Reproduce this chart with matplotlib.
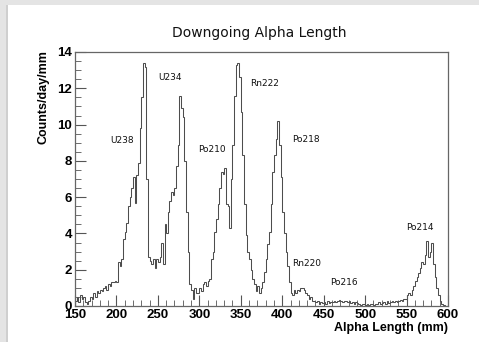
import matplotlib
matplotlib.use("Agg")
import matplotlib.pyplot as plt
import numpy as np
from matplotlib.patches import Rectangle
from matplotlib.ticker import MultipleLocator

# ============================================================
# Data: counts/day/mm in 2 mm bins, 150..600 mm
# ============================================================
bin_lo, bin_hi, bin_w = 150, 600, 2

counts = [
    0.3, 0.5, 0.2, 0.6, 0.4, 0.5, 0.2, 0.1, 0.3, 0.5,      # 150-168
    0.4, 0.7, 0.5, 0.8, 0.7, 0.9, 0.8, 1.0, 1.1, 0.9,      # 170-188
    1.2, 1.1, 1.3, 1.3, 1.4, 1.3, 2.4, 2.2, 2.6, 3.7,      # 190-208
    4.1, 4.6, 5.5, 6.0, 6.5, 7.1, 5.7, 7.2, 7.9, 9.8,      # 210-228
    11.5, 13.4, 13.2, 7.0, 2.7, 2.5, 2.3, 2.6, 2.1, 2.6,   # 230-248
    2.4, 2.7, 3.5, 2.3, 4.5, 4.0, 5.2, 5.8, 6.3, 6.1,      # 250-268
    6.5, 7.7, 8.9, 11.6, 10.9, 10.4, 8.0, 5.2, 3.0, 1.2,   # 270-288
    0.9, 0.4, 1.0, 0.7, 0.7, 1.0, 0.8, 1.2, 1.3, 1.1,      # 290-308
    1.4, 1.5, 2.6, 3.0, 4.1, 4.8, 5.6, 6.5, 7.4, 7.3,      # 310-328
    7.6, 5.6, 5.5, 4.3, 7.0, 8.9, 11.6, 13.3, 13.4, 12.6,  # 330-348
    10.7, 8.3, 5.6, 3.9, 3.0, 2.6, 2.0, 1.5, 1.2, 0.8,     # 350-368
    1.1, 0.7, 1.0, 1.3, 1.9, 2.6, 3.4, 4.1, 5.6, 7.4,      # 370-388
    8.3, 9.2, 10.2, 8.9, 7.1, 5.2, 4.0, 3.0, 2.2, 1.3,     # 390-408
    0.7, 0.6, 0.9, 0.7, 0.9, 0.8, 1.0, 1.0, 0.9, 0.7,      # 410-428
    0.6, 0.4, 0.5, 0.3, 0.3, 0.2, 0.3, 0.1, 0.2, 0.15,     # 430-448
    0.2, 0.1, 0.25, 0.15, 0.2, 0.2, 0.3, 0.2, 0.25, 0.35,  # 450-468
    0.3, 0.2, 0.3, 0.25, 0.2, 0.3, 0.15, 0.2, 0.1, 0.2,    # 470-488
    0.15, 0.1, 0.05, 0.1, 0.1, 0.05, 0.1, 0.05, 0.1, 0.1,  # 490-508
    0.05, 0.1, 0.1, 0.2, 0.1, 0.15, 0.2, 0.1, 0.25, 0.15,  # 510-528
    0.2, 0.3, 0.2, 0.25, 0.2, 0.3, 0.35, 0.3, 0.4, 0.4,    # 530-548
    0.6, 0.7, 0.6, 0.9, 1.1, 1.4, 1.6, 1.8, 2.1, 2.4,      # 550-568
    2.3, 2.8, 3.6, 2.7, 3.0, 3.5, 2.3, 1.6, 1.0, 0.6,      # 570-588
    0.3, 0.1, 0.05, 0.0, 0.0,                              # 590-598
]

peak_names = ["U238", "U234", "Po210", "Rn222", "Po218", "Rn220", "Po216", "Po214"]
peak_x = [206.7, 264.6, 315.3, 379.2, 428.6, 429.9, 474.5, 566.2]
peak_y = [9.1, 12.57, 8.65, 12.29, 9.15, 2.32, 1.32, 4.3]

title = "Downgoing Alpha Length"
xlabel = "Alpha Length (mm)"
ylabel = "Counts/day/mm"

# ============================================================
# Figure
# ============================================================
W, H = 479, 342
fig = plt.figure(figsize=(W / 100, H / 100), dpi=100, facecolor="#e4e4e4")

# white panel on the grey frame
fig.patches.append(Rectangle((7 / W, 0), 1, (H - 5) / H, transform=fig.transFigure,
                             facecolor="white", edgecolor="none", zorder=-10))
fig.patches.append(Rectangle((6 / W, 0), 1.5 / W, (H - 5) / H, transform=fig.transFigure,
                             facecolor="#cfcfcf", edgecolor="none", zorder=-10))

ax = fig.add_axes([75 / W, 36 / H, 373 / W, 254 / H])
ax.set_facecolor("white")

edges = np.arange(bin_lo, bin_hi + bin_w, bin_w)
ax.stairs(counts, edges, color="#4d4d4d", linewidth=0.75)

ax.set_xlim(bin_lo, bin_hi)
ax.set_ylim(0, 14)

font = "Liberation Sans"
ax.xaxis.set_major_locator(MultipleLocator(50))
ax.xaxis.set_minor_locator(MultipleLocator(10))
ax.yaxis.set_major_locator(MultipleLocator(2))
ax.yaxis.set_minor_locator(MultipleLocator(0.5))
ax.tick_params(which="both", direction="in", top=False, right=False, color="#555555")
ax.tick_params(which="major", length=8, width=0.8, pad=2)
ax.tick_params(which="minor", length=4, width=0.6)
for lab in ax.get_xticklabels() + ax.get_yticklabels():
    lab.set_fontfamily(font)
    lab.set_fontweight("bold")
    lab.set_fontsize(9.5)

for sp in ax.spines.values():
    sp.set_color("#666666")
    sp.set_linewidth(0.9)

for name, x, y in zip(peak_names, peak_x, peak_y):
    ax.text(x, y, name, ha="center", va="center", fontsize=6.5,
            family="DejaVu Sans", color="#111111")

fig.text(259 / W, 1 - 33 / H, title, ha="center", va="center",
         fontsize=10, family="DejaVu Sans", color="#111111")
fig.text(448 / W, 1 - 328 / H, xlabel, ha="right", va="center",
         fontsize=9, family=font, fontweight="bold")
fig.text(43 / W, 1 - 50 / H, ylabel, ha="center", va="top", rotation=90,
         fontsize=9, family=font, fontweight="bold")

fig.savefig("out.png", dpi=100, facecolor=fig.get_facecolor())
